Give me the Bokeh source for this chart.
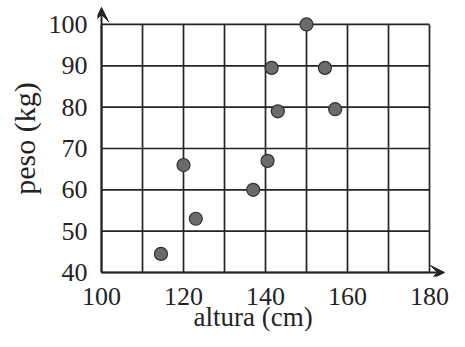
from bokeh.plotting import figure
from bokeh.models import Arrow, VeeHead, Title, FixedTicker, ColumnDataSource
from bokeh.embed import file_html
from bokeh.resources import INLINE

# ---- data ----
altura = [114.5, 123, 120, 137, 140.5, 141.5, 143, 150, 154.5, 157]
peso = [44.5, 53, 66, 60, 67, 89.5, 79, 100, 89.5, 79.5]

x_grid = [100, 110, 120, 130, 140, 150, 160, 170, 180]
y_grid = [40, 50, 60, 70, 80, 90, 100]
x_tick_labels = [100, 120, 140, 160, 180]
y_tick_labels = [40, 50, 60, 70, 80, 90, 100]
x_title = "altura (cm)"
y_title = "peso (kg)"

FONT = "Liberation Serif"
INK = "#242424"

# ranges padded slightly so the axis arrows sit inside the plotting area
X0, X1 = 99.02, 184.88
Y0, Y1 = 39.03, 105.8
X_ARROW_END = 183.66
Y_ARROW_END = 104.1

p = figure(width=449, height=331, x_range=(X0, X1), y_range=(Y0, Y1),
           min_border_left=97, min_border_right=0, min_border_top=0,
           min_border_bottom=55, output_backend="svg", toolbar_location=None)
p.grid.visible = False
p.outline_line_color = None
p.background_fill_color = "white"
p.border_fill_color = "white"

p.xaxis.ticker = FixedTicker(ticks=x_tick_labels)
p.yaxis.ticker = FixedTicker(ticks=y_tick_labels)
for ax in (p.xaxis, p.yaxis):
    ax.axis_line_color = None
    ax.major_tick_line_color = None
    ax.minor_tick_line_color = None
    ax.major_tick_out = 0
    ax.major_tick_in = 0
    ax.major_label_text_font = FONT
    ax.major_label_text_font_size = "26px"
    ax.major_label_text_color = INK
p.xaxis.major_label_standoff = 11
p.yaxis.major_label_standoff = 10

# axis titles
p.add_layout(Title(text=x_title, align="left", offset=96, standoff=-15,
                   text_font=FONT, text_font_size="27px", text_font_style="normal",
                   text_color=INK), "below")
p.add_layout(Title(text=y_title, align="center", offset=-25, standoff=9,
                   text_font=FONT, text_font_size="30px", text_font_style="normal",
                   text_color=INK), "left")

# grid drawn within the data box
p.segment(x0=x_grid, y0=[y_grid[0]] * len(x_grid), x1=x_grid, y1=[y_grid[-1]] * len(x_grid),
          line_color=INK, line_width=1.7)
p.segment(x0=[x_grid[0]] * len(y_grid), y0=y_grid, x1=[x_grid[-1]] * len(y_grid), y1=y_grid,
          line_color=INK, line_width=1.7)

# axis arrows
p.add_layout(Arrow(x_start=x_grid[0], y_start=y_grid[0], x_end=X_ARROW_END, y_end=y_grid[0],
                   line_color=INK, line_width=2,
                   end=VeeHead(size=14, fill_color=INK, line_color=INK, line_width=1)))
p.add_layout(Arrow(x_start=x_grid[0], y_start=y_grid[0], x_end=x_grid[0], y_end=Y_ARROW_END,
                   line_color=INK, line_width=2,
                   end=VeeHead(size=14, fill_color=INK, line_color=INK, line_width=1)))

# points
src = ColumnDataSource(dict(x=altura, y=peso))
p.scatter("x", "y", source=src, size=13, fill_color="#6b6b6b", line_color="#303030", line_width=1.2)

open("out.html", "w").write(file_html(p, INLINE))
